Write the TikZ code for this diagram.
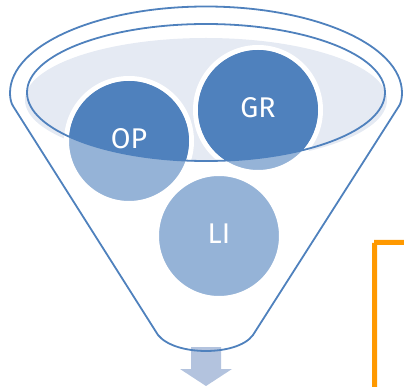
\documentclass[tikz,border=0pt]{standalone}
\usepackage{fontspec}
\setmainfont{Fira Sans}
\definecolor{fline}{HTML}{4F81BD}
\definecolor{dark}{HTML}{4F81BD}
\definecolor{lite}{HTML}{95B3D7}
\definecolor{pale}{HTML}{E5EAF3}
\definecolor{arrowc}{HTML}{B3C3DE}
\definecolor{orangec}{HTML}{FF9900}
\tikzset{
  ball/.style={circle,fill=lite,draw=white,line width=5pt,minimum size=125pt,inner sep=0pt,outer sep=0pt},
  lab/.style={text=white,font=\fontsize{28.5}{28.5}\selectfont,inner sep=0pt},
  fun/.style={draw=fline,line width=1.8pt,line join=round}
}
\begin{document}
\begin{tikzpicture}[x=1pt,y=-1pt]
\useasboundingbox (0,0) rectangle (404,387);
% arrow
\fill[arrowc] (191,347) -- (221,347) -- (221,369) -- (232,369) -- (206,386) -- (180,369) -- (191,369) -- cycle;
% pale liquid
\fill[pale] (206,100) ellipse [x radius=181pt,y radius=62pt];
% balls
\node[ball] (op) at (129,141) {};
\node[ball] (gr) at (258,110) {};
\node[ball] (li) at (219,236) {};
\begin{scope}
  \clip (206,92.5) ellipse [x radius=179pt,y radius=68.5pt];
  \fill[dark] (op.center) circle [radius=60pt];
  \fill[dark] (gr.center) circle [radius=60pt];
\end{scope}
\node[lab] (optext) at (129,139) {OP};
\node[lab] (grtext) at (258,108) {GR};
\node[lab] (litext) at (219,234) {LI};
% funnel
\draw[fun] (206,92.5) ellipse [x radius=179pt,y radius=68.5pt];
\draw[fun] (10,93) .. controls (10,45) and (98,6.5) .. (206,6.5)
  .. controls (314,6.5) and (402,45) .. (402,93)
  .. controls (402,98) and (401,103) .. (399,106) -- (253,335)
  .. controls (245,346) and (225,351) .. (206,351)
  .. controls (187,351) and (167,346) .. (158,335) -- (13,106)
  .. controls (11,103) and (10,98) .. (10,93) -- cycle;
% orange
\fill[orangec] (372,387) -- (372,243) -- (374,243) -- (374,240) -- (404,240) -- (404,245) -- (377,245) -- (377,387) -- cycle;
\end{tikzpicture}
\end{document}
